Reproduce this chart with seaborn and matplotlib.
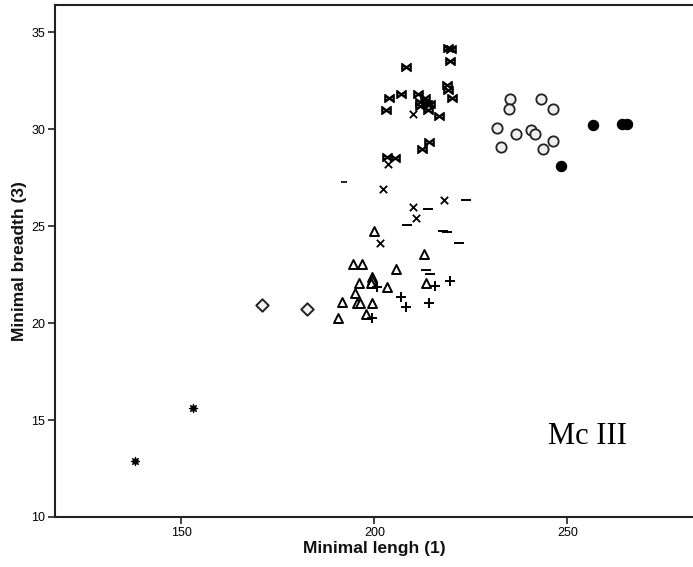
import numpy as np
import pandas as pd
import matplotlib
matplotlib.use("Agg")
import matplotlib.pyplot as plt
import seaborn as sns

# values, one pair of arrays per marker group
bow_x = [219.0, 219.8, 219.5, 208.3, 218.7, 219.1, 220.1, 203.8, 206.8, 211.3, 213.0,
         211.8, 213.5, 214.3, 213.9, 211.8, 203.0, 216.7, 214.2, 212.2, 203.2, 205.3]
bow_y = [34.2, 34.15, 33.5, 33.2, 32.3, 32.0, 31.6, 31.6, 31.8, 31.8, 31.6,
         31.4, 31.3, 31.27, 31.0, 31.2, 31.0, 30.7, 29.35, 29.0, 28.56, 28.5]

cross_x = [209.9, 203.6, 202.3, 218.0, 209.9, 210.9, 201.4]
cross_y = [30.76, 28.2, 26.9, 26.36, 25.96, 25.44, 24.15]

dash_x = [223.6, 213.9, 208.5, 217.8, 218.8, 221.9, 213.3, 214.3]
dash_y = [26.36, 25.86, 25.08, 24.76, 24.67, 24.15, 22.76, 22.54]

small_dash_x = [192.0]
small_dash_y = [27.25]

tri_x = [199.95, 212.8, 194.5, 196.8, 205.7, 199.3, 199.3, 196.1, 199.0, 203.3,
         213.3, 195.0, 191.6, 195.6, 196.4, 199.3, 197.7, 190.6]
tri_y = [24.77, 23.57, 23.05, 23.05, 22.77, 22.4, 22.2, 22.05, 22.05, 21.88,
         22.05, 21.56, 21.07, 21.04, 21.04, 21.04, 20.47, 20.26]

plus_x = [200.6, 215.7, 219.5, 206.8, 208.1, 214.2, 199.3]
plus_y = [21.85, 21.92, 22.15, 21.36, 20.85, 21.02, 20.24]

circ_x = [235.2, 243.1, 234.8, 246.2, 231.8, 240.6, 241.7, 236.7, 246.2, 232.7, 243.6]
circ_y = [31.57, 31.57, 31.06, 31.06, 30.08, 29.97, 29.77, 29.77, 29.37, 29.08, 28.96]

dot_x = [256.5, 264.1, 265.3, 248.4]
dot_y = [30.2, 30.28, 30.28, 28.08]

diam_x = [170.8, 182.5]
diam_y = [20.93, 20.73]

star_x = [152.9, 137.9]
star_y = [15.61, 12.9]

sns.set_style("ticks")
plt.rcParams['font.family'] = ['Liberation Sans', 'DejaVu Sans']

fig = plt.figure(figsize=(6.93, 5.67), dpi=100)
ax = fig.add_axes([0.0794, 0.0882, 0.9206, 0.903])

sns.scatterplot(x=bow_x, y=bow_y, marker=r'$\bowtie$', s=45, color='black',
                edgecolor='black', linewidth=0.9, ax=ax)
sns.scatterplot(x=cross_x, y=cross_y, marker='x', s=28, color='black',
                linewidth=1.3, ax=ax)
sns.scatterplot(x=dash_x, y=dash_y, marker='_', s=55, color='black',
                linewidth=1.4, ax=ax)
sns.scatterplot(x=small_dash_x, y=small_dash_y, marker='_', s=18, color='black',
                linewidth=1.2, ax=ax)
sns.scatterplot(x=tri_x, y=tri_y, marker='^', s=42, facecolor='white',
                edgecolor='black', linewidth=1.4, ax=ax)
sns.scatterplot(x=plus_x, y=plus_y, marker='+', s=55, color='black',
                linewidth=1.4, ax=ax)
sns.scatterplot(x=circ_x, y=circ_y, marker='o', s=55, facecolor='#eeeeee',
                edgecolor='#222222', linewidth=1.3, ax=ax)
sns.scatterplot(x=dot_x, y=dot_y, marker='o', s=55, color='black',
                edgecolor='black', linewidth=0.8, ax=ax)
sns.scatterplot(x=diam_x, y=diam_y, marker='D', s=40, facecolor='#f2f2f2',
                edgecolor='#222222', linewidth=1.4, ax=ax)
sns.scatterplot(x=star_x, y=star_y, marker=(8, 1, 0), s=40, color='black',
                edgecolor='black', linewidth=0.6, ax=ax)

ax.set_xlim(117.3, 282.5)
ax.set_ylim(10, 36.4)
ax.set_xticks([150, 200, 250])
ax.set_yticks([10, 15, 20, 25, 30, 35])
ax.tick_params(labelsize=9, length=5, width=1.2, color='#222222',
               labelcolor='black', pad=2)
for side in ['left', 'bottom', 'top']:
    ax.spines[side].set_linewidth(1.5)
    ax.spines[side].set_color('#222222')
ax.spines['right'].set_visible(False)

ax.set_xlabel('Minimal lengh (1)', fontsize=12.5, fontweight='bold', labelpad=2,
              color='#111111')
ax.set_ylabel('Minimal breadth (3)', fontsize=12.5, fontweight='bold', labelpad=3,
              color='#111111')

ax.text(255.2, 13.77, 'Mc III', fontsize=22, family=['Liberation Serif'],
        ha='center', va='baseline', color='black')

fig.savefig('out.png', dpi=100)
